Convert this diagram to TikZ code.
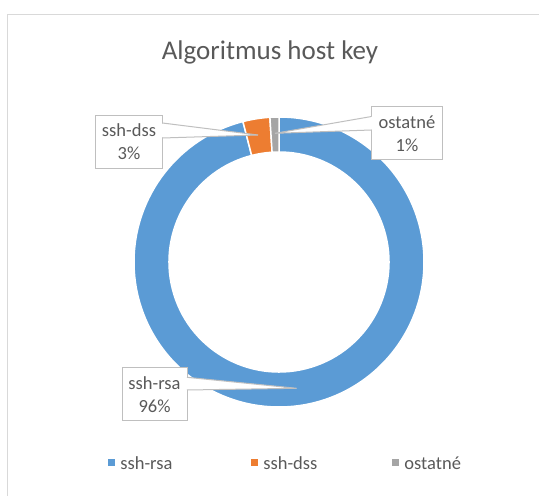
\documentclass[tikz,border=0pt]{standalone}
\usepackage{fontspec}
\setmainfont{Carlito}
\usetikzlibrary{positioning,calc}
\definecolor{rsablue}{HTML}{5B9BD5}
\definecolor{dssorange}{HTML}{ED7D31}
\definecolor{othgray}{HTML}{A5A5A5}
\definecolor{txtgray}{HTML}{595959}
\definecolor{boxgray}{HTML}{BFBFBF}
\definecolor{framegray}{HTML}{D9D9D9}

\begin{document}
\begin{tikzpicture}[x=1pt,y=1pt,
  lbl/.style={draw=boxgray,fill=white,line width=1pt,text=txtgray,outer sep=0pt,
    font=\fontsize{18.5}{23}\selectfont,align=center,minimum width=#1,minimum height=53pt,
    inner sep=0pt},
  tail/.style={fill=white,draw=boxgray,line width=1pt,line join=miter},
  gap/.style={white,line width=1.3pt},
  slice/.style={fill=#1,draw=white,line width=1.5pt},
  key/.style={fill=#1,minimum size=7pt,inner sep=0pt},
  keytext/.style={text=txtgray,font=\fontsize{18.5}{22}\selectfont,inner sep=0pt}]
\useasboundingbox (0,0) rectangle (539,496);
\draw[framegray,line width=1.2pt] (7.5,0) -- (7.5,481.5) -- (545,481.5);
\node[text=txtgray,font=\fontsize{27}{32}\selectfont] (title) at (270,444) {Algoritmus host key};

\coordinate (c) at (279,234);
\begin{scope}[shift={(c)}]
\filldraw[slice=rsablue] (90:145) arc[start angle=90,end angle=-255.6,radius=145]
  -- (-255.6:110) arc[start angle=-255.6,end angle=90,radius=110] -- cycle;
\filldraw[slice=dssorange] (104.4:145) arc[start angle=104.4,end angle=93.6,radius=145]
  -- (93.6:110) arc[start angle=93.6,end angle=104.4,radius=110] -- cycle;
\filldraw[slice=othgray] (93.6:145) arc[start angle=93.6,end angle=90,radius=145]
  -- (90:110) arc[start angle=90,end angle=93.6,radius=110] -- cycle;
\end{scope}

\coordinate (dsstip) at (258,361);
\coordinate (othtip) at (275,362.7);
\coordinate (rsatip) at (296.7,107.7);

\node[lbl=67pt] (dss) at (129,354) {ssh-dss\\3\%};
\filldraw[tail] ($(dss.north east)+(0,-7.5)$) -- (dsstip) -- ($(dss.north east)+(0,-22.5)$);
\draw[gap] ($(dss.north east)+(0,-8.2)$) -- ($(dss.north east)+(0,-21.8)$);

\node[lbl=71pt] (oth) at (407,362.5) {ostatné\\1\%};
\filldraw[tail] ($(oth.north west)+(0,-9.5)$) -- (othtip) -- ($(oth.north west)+(0,-23)$);
\draw[gap] ($(oth.north west)+(0,-10.2)$) -- ($(oth.north west)+(0,-22.3)$);

\node[lbl=65pt] (rsa) at (154.5,101.5) {ssh-rsa\\96\%};
\filldraw[tail] ($(rsa.north east)+(0,-9.3)$) -- (rsatip) -- ($(rsa.north east)+(0,-22)$);
\draw[gap] ($(rsa.north east)+(0,-10)$) -- ($(rsa.north east)+(0,-21.3)$);

\node[key=rsablue] (krsa) at (111.5,33) {};
\node[keytext,right=5pt of krsa] (trsa) {ssh-rsa};
\node[key=dssorange] (kdss) at (254.5,33) {};
\node[keytext,right=5pt of kdss] (tdss) {ssh-dss};
\node[key=othgray] (koth) at (395.5,33) {};
\node[keytext,right=5pt of koth] (toth) {ostatné};
\end{tikzpicture}
\end{document}
